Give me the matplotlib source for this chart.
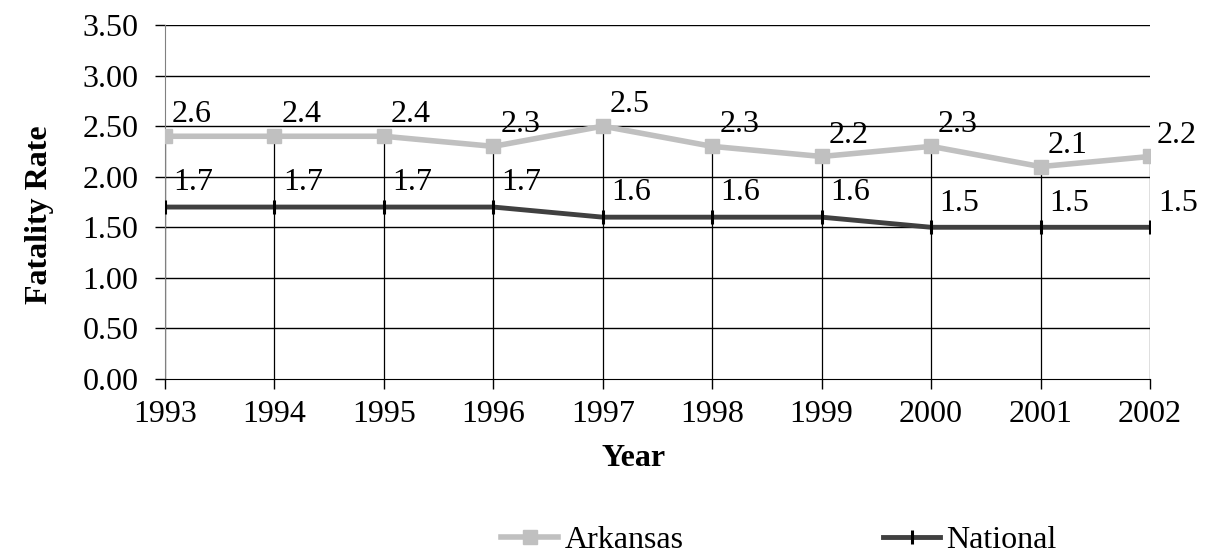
import matplotlib.pyplot as plt
from matplotlib.transforms import offset_copy

years = [1993, 1994, 1995, 1996, 1997, 1998, 1999, 2000, 2001, 2002]
arkansas = [2.4, 2.4, 2.4, 2.3, 2.5, 2.3, 2.2, 2.3, 2.1, 2.2]
arkansas_labels = ['2.6', '2.4', '2.4', '2.3', '2.5', '2.3', '2.2', '2.3', '2.1', '2.2']
national = [1.7, 1.7, 1.7, 1.7, 1.6, 1.6, 1.6, 1.5, 1.5, 1.5]
national_labels = ['1.7', '1.7', '1.7', '1.7', '1.6', '1.6', '1.6', '1.5', '1.5', '1.5']
yticks = [0, 0.5, 1, 1.5, 2, 2.5, 3, 3.5]

LIGHT = '#C0C0C0'
DARK = '#404040'
FS = 23

plt.rcParams['font.family'] = ['Liberation Serif', 'DejaVu Serif']

fig = plt.figure(figsize=(12.05, 5.57), dpi=100)
ax = fig.add_axes([165 / 1205, 1 - 379 / 557, (1150 - 165) / 1205, (379 - 25) / 557])

ax.set_xlim(years[0], years[-1])
ax.set_ylim(0, 3.5)

# gridlines and drop lines
for y in yticks[1:]:
    ax.axhline(y, color='black', lw=1, zorder=1)
ax.vlines(years, 0, arkansas, color='black', lw=0.9, zorder=1)

ax.plot(years, arkansas, color=LIGHT, lw=4, marker='s', ms=10.5, label='Arkansas', zorder=3)
ax.plot(years, national, color=DARK, lw=3.5, marker='|', ms=10, mew=2.2, mec='black',
        label='National', zorder=3)

for x, y, t in zip(years, arkansas, arkansas_labels):
    tr = offset_copy(ax.transData, fig=fig, x=5, y=5, units='points')
    ax.text(x, y, t, transform=tr, fontsize=FS, ha='left', va='bottom')
for x, y, t in zip(years, national, national_labels):
    tr = offset_copy(ax.transData, fig=fig, x=6, y=7, units='points')
    ax.text(x, y, t, transform=tr, fontsize=FS, ha='left', va='bottom')

for s in ['top', 'right']:
    ax.spines[s].set_visible(False)
ax.spines['left'].set_color('#808080')
ax.spines['bottom'].set_color('black')

ax.set_yticks(yticks)
ax.set_yticklabels(['%.2f' % v for v in yticks])
ax.set_xticks(years)
ax.set_xticklabels([str(y) for y in years])
ax.tick_params(axis='y', direction='out', length=7, width=1, pad=12, labelsize=FS)
ax.tick_params(axis='x', direction='out', length=7, width=1, pad=8, labelsize=FS)

fig.text(634 / 1205, 1 - 458 / 557, 'Year', fontsize=FS, fontweight='bold', ha='center', va='center')
fig.text(40 / 1205, 1 - 215 / 557, 'Fatality Rate', fontsize=FS, fontweight='bold',
         ha='center', va='center', rotation=90)

fig.legend(loc='center', bbox_to_anchor=(779 / 1205, 1 - 540 / 557), ncol=2, frameon=False,
           fontsize=FS, handlelength=1.78, handletextpad=0.2, columnspacing=6.25,
           borderpad=0)

fig.savefig('out.png', dpi=100)
